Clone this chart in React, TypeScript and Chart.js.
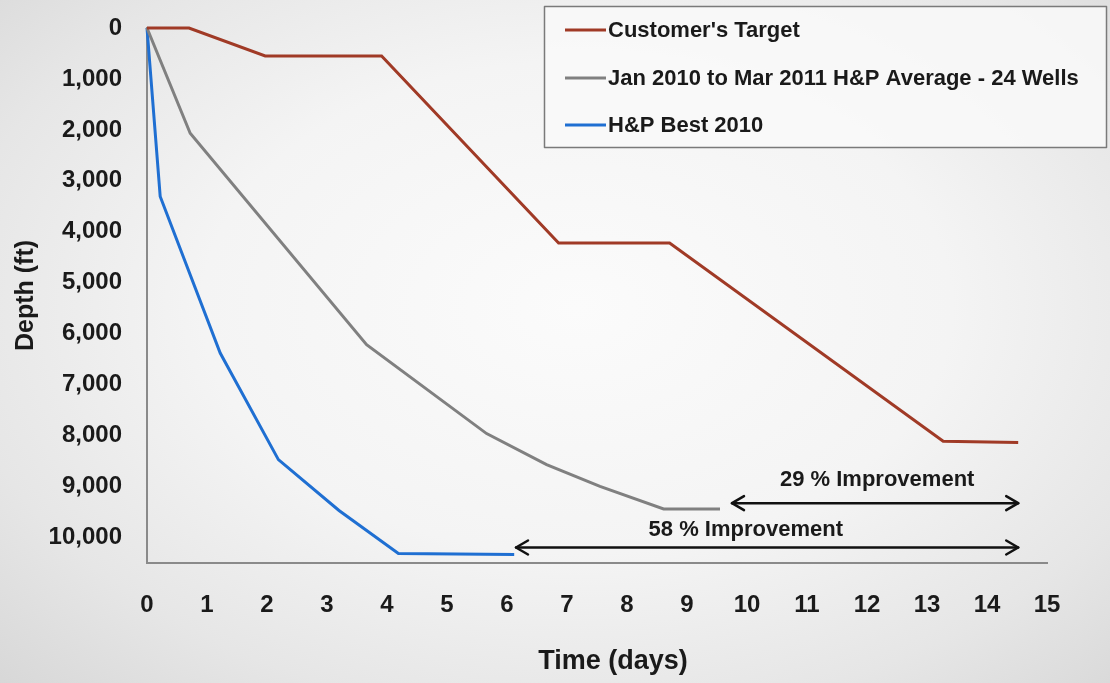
import React, { useEffect, useRef } from "react";
import { Chart, registerables } from "chart.js";

Chart.register(...registerables);

// Drilling curves: time (days) vs depth (ft)
const targetDays = [0, 0.7, 1.97, 3.91, 6.86, 8.71, 13.27, 14.52];
const targetDepth = [0, 0, 550, 550, 4220, 4220, 8110, 8135];

const averageDays = [0, 0.72, 3.66, 5.66, 6.66, 7.55, 8.61, 9.55];
const averageDepth = [0, 2065, 6216, 7960, 8570, 8995, 9440, 9440];

const bestDays = [0, 0.22, 1.22, 2.19, 3.2, 4.19, 6.12];
const bestDepth = [0, 3307, 6380, 8471, 9470, 10314, 10333];

const seriesLabels = [
  "Customer's Target",
  "Jan 2010 to Mar 2011 H&P Average - 24 Wells",
  "H&P Best 2010",
];
const seriesColors = ["#a03a26", "#808080", "#1f6fd2"];

// Improvement arrows (double headed) with their captions
const arrowLabels = ["29 % Improvement", "58 % Improvement"];
const arrowFromDay = [9.75, 6.15];
const arrowToDay = [14.52, 14.52];
const arrowDepth = [9325, 10195];
const arrowLabelDay = [12.17, 9.98];
const arrowLabelDepth = [8870, 9845];

// Axis ranges and tick values
const xRange = [0, 15];
const yRange = [0, 10500];
const yTickValues = [0, 1000, 2000, 3000, 4000, 5000, 6000, 7000, 8000, 9000, 10000];

const FONT = "'Liberation Sans', Arial, Helvetica, sans-serif";
const INK = "#1a1a1a";

const toPoints = (xs: number[], ys: number[]) => xs.map((x, i) => ({ x, y: ys[i] }));

const overlayPlugin = {
  id: "overlay",
  afterDraw(chart: any) {
    const { ctx, chartArea, scales } = chart;
    const xs = scales.x;
    const ys = scales.y;
    ctx.save();

    // improvement arrows
    ctx.strokeStyle = "#111";
    ctx.lineWidth = 2.5;
    ctx.lineCap = "round";
    ctx.lineJoin = "round";
    const head = (x: number, y: number, dir: number) => {
      ctx.beginPath();
      ctx.moveTo(x - dir * 12, y - 7);
      ctx.lineTo(x, y);
      ctx.lineTo(x - dir * 12, y + 7);
      ctx.stroke();
    };
    arrowLabels.forEach((label, i) => {
      const x1 = xs.getPixelForValue(arrowFromDay[i]);
      const x2 = xs.getPixelForValue(arrowToDay[i]);
      const y = ys.getPixelForValue(arrowDepth[i]);
      ctx.beginPath();
      ctx.moveTo(x1, y);
      ctx.lineTo(x2, y);
      ctx.stroke();
      head(x1, y, -1);
      head(x2, y, 1);
      ctx.fillStyle = INK;
      ctx.font = `bold 22px ${FONT}`;
      ctx.textAlign = "center";
      ctx.textBaseline = "middle";
      ctx.fillText(
        label,
        xs.getPixelForValue(arrowLabelDay[i]),
        ys.getPixelForValue(arrowLabelDepth[i])
      );
    });

    // x axis title
    ctx.fillStyle = INK;
    ctx.font = `bold 27px ${FONT}`;
    ctx.textAlign = "center";
    ctx.textBaseline = "middle";
    ctx.fillText("Time (days)", (chartArea.left + chartArea.right) / 2 + 16, 662);

    // legend box
    const bx = 544.5;
    const by = 6.5;
    const bw = 562;
    const bh = 141;
    ctx.fillStyle = "rgba(249,249,249,0.85)";
    ctx.fillRect(bx, by, bw, bh);
    ctx.strokeStyle = "#7a7a7a";
    ctx.lineWidth = 1.5;
    ctx.strokeRect(bx, by, bw, bh);
    const rows = [30, 78, 125];
    chart.data.datasets.forEach((ds: any, i: number) => {
      const y = rows[i];
      ctx.strokeStyle = ds.borderColor;
      ctx.lineWidth = 3;
      ctx.lineCap = "butt";
      ctx.beginPath();
      ctx.moveTo(565, y);
      ctx.lineTo(606, y);
      ctx.stroke();
      ctx.fillStyle = INK;
      ctx.font = `bold 22px ${FONT}`;
      ctx.textAlign = "left";
      ctx.textBaseline = "middle";
      ctx.fillText(ds.label, 608, y + 1);
    });
    ctx.restore();
  },
};

export default function App() {
  const canvasRef = useRef<HTMLCanvasElement | null>(null);

  useEffect(() => {
    document.body.style.margin = "0";
    const canvas = canvasRef.current;
    if (!canvas) return;
    const chart = new Chart(canvas, {
      type: "line",
      data: {
        datasets: [
          { label: seriesLabels[0], data: toPoints(targetDays, targetDepth) },
          { label: seriesLabels[1], data: toPoints(averageDays, averageDepth) },
          { label: seriesLabels[2], data: toPoints(bestDays, bestDepth) },
        ].map((d, i) => ({
          ...d,
          borderColor: seriesColors[i],
          backgroundColor: seriesColors[i],
          borderWidth: 3,
          pointRadius: 0,
          tension: 0,
          fill: false,
          clip: false as any,
        })),
      },
      options: {
        responsive: false,
        animation: false,
        layout: { padding: { top: 28, right: 63, left: 0, bottom: 0 } },
        plugins: {
          legend: { display: false },
          tooltip: { enabled: false },
        },
        scales: {
          x: {
            type: "linear",
            min: xRange[0],
            max: xRange[1],
            grid: { display: false, drawTicks: false },
            border: { display: true, color: "#8a8a8a", width: 2 },
            ticks: {
              stepSize: 1,
              maxTicksLimit: 20,
              padding: 28,
              color: INK,
              font: { family: FONT, size: 24, weight: "bold" },
            },
            afterFit: (scale: any) => {
              scale.height = 120;
            },
          },
          y: {
            type: "linear",
            reverse: true,
            min: yRange[0],
            max: yRange[1],
            grid: { display: false, drawTicks: false },
            border: { display: true, color: "#8a8a8a", width: 2 },
            ticks: {
              autoSkip: false,
              padding: 25,
              color: INK,
              font: { family: FONT, size: 24, weight: "bold" },
              callback: (v: any) => Number(v).toLocaleString("en-US"),
            },
            afterBuildTicks: (scale: any) => {
              scale.ticks = yTickValues.map((value) => ({ value }));
            },
            title: {
              display: true,
              text: "Depth (ft)",
              color: INK,
              font: { family: FONT, size: 25, weight: "bold" },
              padding: { top: 11, bottom: 0 },
            },
            afterFit: (scale: any) => {
              scale.width = 147;
              scale.paddingTop = 0;
              scale.paddingBottom = 0;
            },
          },
        },
      },
      plugins: [overlayPlugin],
    });
    return () => chart.destroy();
  }, []);

  return (
    <div
      style={{
        width: 1110,
        height: 683,
        position: "relative",
        background:
          "radial-gradient(ellipse 75% 80% at 52% 45%, #fbfbfb 0%, #f4f4f4 45%, #e6e6e6 75%, #d6d6d6 100%)",
      }}
    >
      <canvas ref={canvasRef} width={1110} height={683} style={{ display: "block" }} />
    </div>
  );
}
